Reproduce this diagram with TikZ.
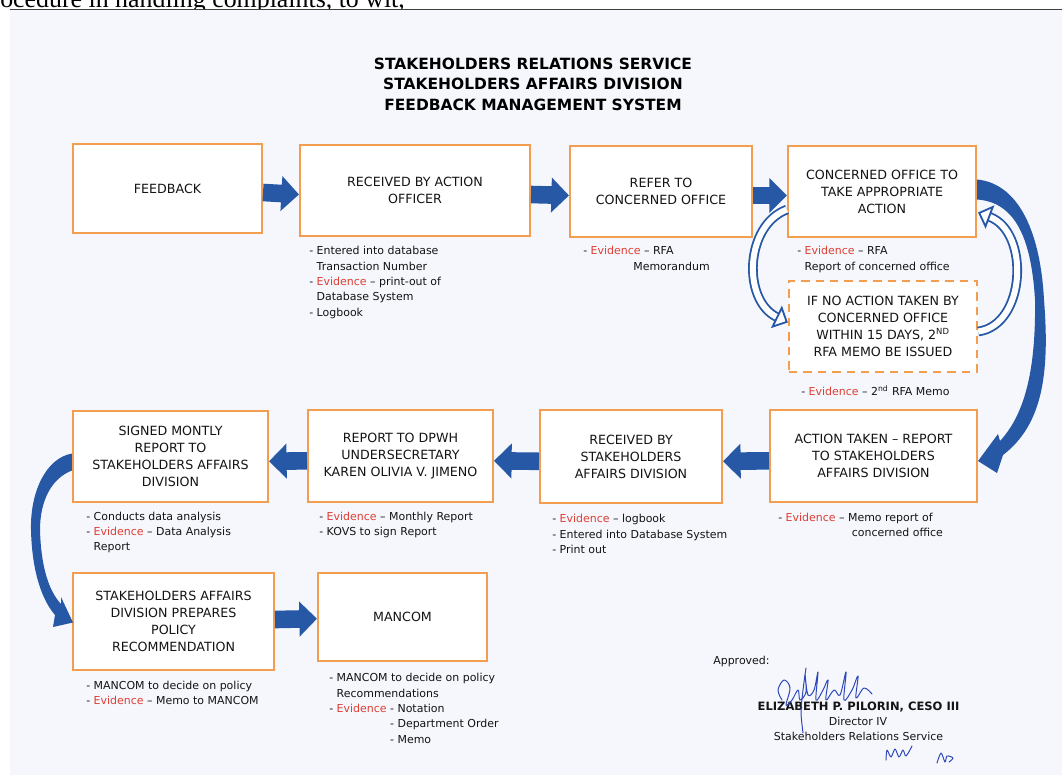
\documentclass[tikz,border=0pt]{standalone}
\usepackage{fontspec}
\setmainfont{DejaVu Sans}
\newfontfamily\pagefont{Liberation Serif}
\usetikzlibrary{shapes, positioning, arrows.meta, calc}

\definecolor{boxorange}{RGB}{243,158,78}
\definecolor{flowblue}{RGB}{38,88,165}
\definecolor{evred}{RGB}{222,62,52}
\definecolor{paper}{RGB}{245,247,252}
\definecolor{inkgray}{RGB}{20,20,20}
\definecolor{sigblue}{RGB}{45,70,185}
\newcommand{\ev}{\textcolor{evred}{Evidence}}

\begin{document}
\begin{tikzpicture}[
    x=0.025cm, y=-0.025cm,
    stepbox/.style={draw=boxorange, line width=1.4pt, fill=white, align=center,
      text=inkgray, font=\fontsize{9}{12.1}\selectfont, inner sep=2pt},
    waitbox/.style={stepbox, dash pattern=on 0.21cm off 0.15cm, line width=1.6pt},
    note/.style={anchor=north west, inner sep=0pt, align=left, text=inkgray,
      font=\fontsize{7.8}{10.95}\selectfont},
    flowarrow/.style={flowblue, line width=0.44cm, -{Triangle[length=0.44cm, width=0.85cm]}},
    loopback/.style={flowblue, line width=1.3pt, double=white, double distance=0.15cm,
      -{Triangle[open, fill=white, length=0.32cm, width=0.62cm]}},
    signtext/.style={anchor=base, inner sep=0pt, text=inkgray, font=\fontsize{7.8}{9}\selectfont}
  ]
  \useasboundingbox (0,0) rectangle (1062,775);
  \fill[white] (0,0) rectangle (1062,775);
  \node[anchor=base west, inner sep=0pt, font=\pagefont\fontsize{18.4}{20}\selectfont] (pagetext) at (0,8)
    {ocedure in handling complaints, to wit,};
  \fill[paper] (10,9.5) rectangle (1062,775);
  \draw[line width=1.2pt, black!75] (10,9.5) -- (1062,9.5);

  % title
  \node[align=center, text=black, font=\bfseries\fontsize{11}{14.6}\selectfont] (title) at (533,84)
    {STAKEHOLDERS RELATIONS SERVICE\\STAKEHOLDERS AFFAIRS DIVISION\\FEEDBACK MANAGEMENT SYSTEM};

  % steps
  \node[stepbox, minimum width=4.725cm, minimum height=2.225cm] (feedback) at (167.5,188.5) {FEEDBACK};
  \node[stepbox, minimum width=5.75cm, minimum height=2.275cm] (officer) at (415,190.5) {RECEIVED BY ACTION\\OFFICER};
  \node[stepbox, minimum width=4.55cm, minimum height=2.275cm] (refer) at (661,191.5) {REFER TO\\CONCERNED OFFICE};
  \node[stepbox, minimum width=4.7cm, minimum height=2.275cm] (act) at (882,191.5) {CONCERNED OFFICE TO\\TAKE APPROPRIATE\\ACTION};
  \node[waitbox, minimum width=4.7cm, minimum height=2.275cm] (noact) at (883,326.5)
    {IF NO ACTION TAKEN BY\\CONCERNED OFFICE\\WITHIN 15 DAYS, 2\textsuperscript{ND}\\RFA MEMO BE ISSUED};
  \node[stepbox, minimum width=5.175cm, minimum height=2.3cm] (taken) at (873.5,456) {ACTION TAKEN – REPORT\\TO STAKEHOLDERS\\AFFAIRS DIVISION};
  \node[stepbox, minimum width=4.55cm, minimum height=2.325cm] (sadrecv) at (631,456.5) {RECEIVED BY\\STAKEHOLDERS\\AFFAIRS DIVISION};
  \node[stepbox, minimum width=4.625cm, minimum height=2.3cm] (dpwh) at (400.5,456) {REPORT TO DPWH\\UNDERSECRETARY\\KAREN OLIVIA V. JIMENO};
  \node[stepbox, minimum width=4.875cm, minimum height=2.275cm] (signed) at (170.5,456.5) {SIGNED MONTLY\\REPORT TO\\STAKEHOLDERS AFFAIRS\\DIVISION};
  \node[stepbox, minimum width=5.025cm, minimum height=2.425cm] (policy) at (173.5,621.5) {STAKEHOLDERS AFFAIRS\\DIVISION PREPARES\\POLICY\\RECOMMENDATION};
  \node[stepbox, minimum width=4.225cm, minimum height=2.2cm] (mancom) at (402.5,617) {MANCOM};

  % notes under the steps
  \node[note] (officernote) at (309,246) {- Entered into database\\\phantom{- }Transaction Number\\- \ev{} – print-out of\\\phantom{- }Database System\\- Logbook};
  \node[note] (refernote) at (583,246) {- \ev{} – RFA\\\hspace*{1.25cm}Memorandum};
  \node[note] (actnote) at (797,246) {- \ev{} – RFA\\\phantom{- }Report of concerned office};
  \node[note] (noactnote) at (801,385) {- \ev{} – 2\textsuperscript{nd} RFA Memo};
  \node[note] (takennote) at (778,512.5) {- \ev{} – Memo report of\\\hspace*{1.84cm}concerned office};
  \node[note] (sadrecvnote) at (552,514) {- \ev{} – logbook\\- Entered into Database System\\- Print out};
  \node[note] (dpwhnote) at (319,511.5) {- \ev{} – Monthly Report\\- KOVS to sign Report};
  \node[note] (signednote) at (86,511.5) {- Conducts data analysis\\- \ev{} – Data Analysis\\\phantom{- }Report};
  \node[note] (policynote) at (86,680.5) {- MANCOM to decide on policy\\- \ev{} – Memo to MANCOM};
  \node[note] (mancomnote) at (329,673) {- MANCOM to decide on policy\\\phantom{- }Recommendations\\- \ev{} - Notation\\\phantom{- Evidence }- Department Order\\\phantom{- Evidence }- Memo};

  % flow
  \draw[flowarrow] ([yshift=-0.1cm]feedback.east) -- ([yshift=-0.1cm]officer.west);
  \draw[flowarrow] ([yshift=-0.1cm]officer.east) -- ([yshift=-0.1cm]refer.west);
  \draw[flowarrow] ([yshift=-0.1cm]refer.east) -- ([yshift=-0.1cm]act.west);
  \draw[flowarrow] ([yshift=-0.12cm]taken.west) -- ([yshift=-0.12cm]sadrecv.east);
  \draw[flowarrow] ([yshift=-0.12cm]sadrecv.west) -- ([yshift=-0.12cm]dpwh.east);
  \draw[flowarrow] ([yshift=-0.12cm]dpwh.west) -- ([yshift=-0.12cm]signed.east);
  \draw[flowarrow] (policy) -- (mancom);

  \draw[loopback] ($(act.west)+(0,18)$) .. controls (745,225) and (742,300) .. ($(noact.west)+(0,-4)$);
  \draw[loopback] ($(noact.east)+(0,5)$) .. controls (1026,325) and (1030,232) .. ($(act.east)+(1,21)$);

  % tapered arrow act -> taken
  \fill[flowblue] ($(act.east)+(0,-12)$) .. controls (1015,183) and (1040,225) .. (1044,300)
    .. controls (1050,375) and (1042,425) .. (1003,455) -- (997,473) -- ($(taken.east)+(0,5)$)
    -- (998,434) -- (1000,441) .. controls (1024,415) and (1036,372) .. (1035,300)
    .. controls (1031,232) and (1012,202) .. ($(act.east)+(0,8)$) -- cycle;
  % tapered arrow signed -> policy
  \fill[flowblue] ($(signed.west)+(0,-3)$) .. controls (46,458) and (30,492) .. (31,530)
    .. controls (32,572) and (42,600) .. (55,615) -- (53,627) -- ($(policy.west)+(1,1)$)
    -- (61,597) -- (61,604) .. controls (48,590) and (41,565) .. (40,530)
    .. controls (40,500) and (52,478) .. ($(signed.west)+(0,14)$) -- cycle;

  % approval
  \node[signtext, anchor=base west] (approved) at (713,664) {Approved:};
  \node[signtext, font=\bfseries\fontsize{8.2}{10}\selectfont] (director) at (858.5,710) {ELIZABETH P. PILORIN, CESO III};
  \node[signtext] (rank) at (858,725) {Director IV};
  \node[signtext] (office) at (858.5,740) {Stakeholders Relations Service};
  \draw[sigblue, line width=0.7pt, line cap=round, line join=round] plot[smooth, tension=0.6] coordinates
    {(782,700) (778,690) (784,680) (790,688) (786,705) (792,700) (798,690) (800,700) (806,692) (805,675)
     (808,695) (814,690) (818,672) (816,700) (823,690) (828,680) (826,700) (834,690) (840,695) (846,672)
     (844,700) (852,690) (858,676) (856,698) (864,688) (872,694)};
  \draw[sigblue, line width=0.7pt, line cap=round] plot[smooth, tension=0.5] coordinates
    {(806,668) (803,690) (801,712) (803,733)};
  \draw[sigblue, line width=0.7pt, line cap=round, line join=round] plot[smooth, tension=0.5] coordinates
    {(886,760) (887,750) (891,757) (895,749) (899,757) (903,750) (906,756) (912,746)};
  \draw[sigblue, line width=0.7pt, line cap=round, line join=round] plot[smooth, tension=0.5] coordinates
    {(937,763) (941,753) (945,762) (947,756) (953,758) (949,762)};
\end{tikzpicture}
\end{document}
